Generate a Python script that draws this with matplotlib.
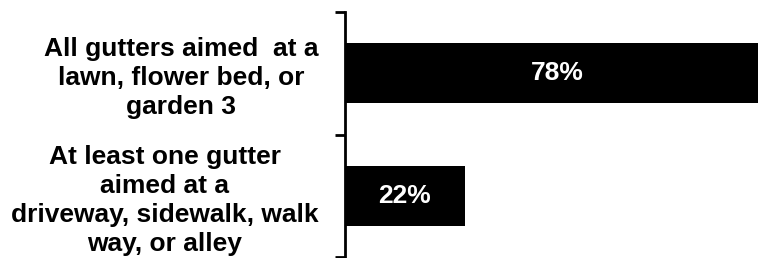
import matplotlib.pyplot as plt
from matplotlib.ticker import FixedLocator

plt.rcParams['font.family'] = ['Liberation Sans', 'DejaVu Sans']

categories = [
    "All gutters aimed  at a\nlawn, flower bed, or\ngarden 3",
    "At least one gutter\naimed at a\ndriveway, sidewalk, walk\nway, or alley",
]
values = [78, 22]
value_labels = ["78%", "22%"]

W, H = 758, 258
fig = plt.figure(figsize=(W / 100, H / 100), dpi=100)
# axes runs past the right edge of the figure, so the long bar is cut off
x0, x1 = 345, 770
y_top, y_bot = 12, 257
ax = fig.add_axes([x0 / W, (H - y_bot) / H, (x1 - x0) / W, (y_bot - y_top) / H])

pos = list(range(len(categories)))
ax.barh(pos, values, height=0.49, color='black')
for p, v, lab in zip(pos, values, value_labels):
    ax.text(v / 2, p, lab, color='white', fontsize=19, fontweight='bold',
            ha='center', va='center')

ax.set_xlim(0, 78)
ax.set_ylim(len(categories) - 0.5, -0.5)

for s in ['top', 'right', 'bottom']:
    ax.spines[s].set_visible(False)
ax.spines['left'].set_linewidth(2)
ax.set_xticks([])

ax.yaxis.set_major_locator(FixedLocator([-0.5, 0.5, 1.5]))
ax.yaxis.set_minor_locator(FixedLocator(pos))
ax.set_yticklabels([], minor=False)
ax.set_yticklabels(categories, minor=True, fontsize=19, fontweight='bold',
                   multialignment='center', linespacing=1.26)
ax.tick_params(axis='y', which='major', length=7.5, width=2)
ax.tick_params(axis='y', which='minor', length=0, pad=19)

fig.savefig('out.png', dpi=100)
